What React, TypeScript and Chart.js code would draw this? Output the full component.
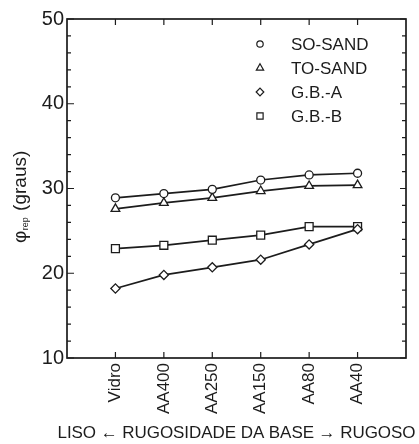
import React, { useEffect, useRef } from 'react';
import { Chart, registerables } from 'chart.js';
import { drawPoint } from 'chart.js/helpers';

Chart.register(...registerables);

const categories = ['Vidro', 'AA400', 'AA250', 'AA150', 'AA80', 'AA40'];
const seriesLabels = ['SO-SAND', 'TO-SAND', 'G.B.-A', 'G.B.-B'];
const soSand = [28.9, 29.4, 29.9, 31.0, 31.6, 31.8];
const toSand = [27.6, 28.3, 28.9, 29.7, 30.3, 30.4];
const gbA = [18.2, 19.8, 20.7, 21.6, 23.4, 25.2];
const gbB = [22.9, 23.3, 23.9, 24.5, 25.5, 25.5];
const yMajorTicks = [10, 20, 30, 40, 50];
const yMinorTicks = [12, 14, 16, 18, 22, 24, 26, 28, 32, 34, 36, 38, 42, 44, 46, 48];
const xAxisTitle = 'LISO \u2190 RUGOSIDADE DA BASE \u2192 RUGOSO';

const FONT = "'Liberation Sans', Arial, Helvetica, sans-serif";
const INK = '#1c1c1c';

const toPoints = (arr: number[]) => arr.map((y, i) => ({ x: i + 1, y }));

const framePlugin = {
  id: 'frameTicks',
  afterDraw(chart: any) {
    const { ctx, scales } = chart;
    const xs = scales.x;
    const ys = scales.y;
    const L = xs.getPixelForValue(0);
    const R = xs.getPixelForValue(7);
    const T = ys.getPixelForValue(50);
    const B = ys.getPixelForValue(10);
    ctx.save();
    ctx.strokeStyle = INK;
    ctx.lineWidth = 1.7;
    ctx.strokeRect(L, T, R - L, B - T);
    ctx.lineWidth = 1.2;
    ctx.beginPath();
    categories.forEach((_, i) => {
      const px = xs.getPixelForValue(i + 1);
      ctx.moveTo(px, B);
      ctx.lineTo(px, B - 6);
      ctx.moveTo(px, T);
      ctx.lineTo(px, T + 6);
    });
    yMajorTicks.forEach((v) => {
      const py = ys.getPixelForValue(v);
      ctx.moveTo(L, py);
      ctx.lineTo(L + 7, py);
      ctx.moveTo(R, py);
      ctx.lineTo(R - 6, py);
    });
    yMinorTicks.forEach((v) => {
      const py = ys.getPixelForValue(v);
      ctx.moveTo(L, py);
      ctx.lineTo(L + 4, py);
      ctx.moveTo(R, py);
      ctx.lineTo(R - 4, py);
    });
    ctx.stroke();

    // legend
    const legendX = 260;
    const textX = 291;
    const legendY0 = 44;
    const step = 24;
    const legendRadius: Record<string, number> = { circle: 3.2, triangle: 4.2, rectRot: 3.8, rect: 4.4 };
    chart.data.datasets.forEach((ds: any, i: number) => {
      const y = legendY0 + i * step;
      ctx.strokeStyle = INK;
      ctx.fillStyle = '#fff';
      drawPoint(ctx, { pointStyle: ds.pointStyle, radius: legendRadius[ds.pointStyle], borderWidth: 1.1, rotation: 0 } as any, legendX, y);
      ctx.fillStyle = INK;
      ctx.font = `17px ${FONT}`;
      ctx.textAlign = 'left';
      ctx.textBaseline = 'middle';
      ctx.fillText(ds.label, textX, y + 1);
    });

    // x axis title, fitted to the reference width
    ctx.save();
    ctx.fillStyle = INK;
    ctx.font = `17px ${FONT}`;
    ctx.textAlign = 'left';
    ctx.textBaseline = 'middle';
    const chars = Array.from(xAxisTitle);
    const widths = chars.map((ch) => ctx.measureText(ch).width);
    const natural = widths.reduce((s, v) => s + v, 0);
    const target = 358;
    const extra = (target - natural) / (chars.length - 1);
    let cx = xs.getPixelForValue(3.5) - target / 2;
    chars.forEach((ch, i) => {
      ctx.fillText(ch, cx, 433);
      cx += widths[i] + extra;
    });
    ctx.restore();

    // y title with subscript
    ctx.save();
    ctx.translate(21, 243);
    ctx.rotate(-Math.PI / 2);
    ctx.fillStyle = INK;
    ctx.textAlign = 'left';
    ctx.textBaseline = 'middle';
    ctx.font = `19px ${FONT}`;
    const phi = '\u03c6';
    ctx.fillText(phi, 0, 0);
    let w = ctx.measureText(phi).width;
    ctx.font = `9px ${FONT}`;
    ctx.fillText('rep', w + 0.5, 5);
    w += ctx.measureText('rep').width + 0.5;
    ctx.font = `19px ${FONT}`;
    ctx.fillText(' (graus)', w + 1, 0);
    ctx.restore();

    ctx.restore();
  },
};

export default function App() {
  const ref = useRef<HTMLCanvasElement | null>(null);

  useEffect(() => {
    document.body.style.margin = '0';
    const canvas = ref.current;
    if (!canvas) return;
    const common = {
      borderColor: INK,
      borderWidth: 1.7,
      pointBackgroundColor: '#fff',
      pointBorderColor: INK,
      pointBorderWidth: 1.3,
      tension: 0,
      fill: false,
    };
    const chart = new Chart(canvas, {
      type: 'line',
      data: {
        datasets: [
          { ...common, label: seriesLabels[0], data: toPoints(soSand), pointStyle: 'circle', pointRadius: 4 },
          { ...common, label: seriesLabels[1], data: toPoints(toSand), pointStyle: 'triangle', pointRadius: 5 },
          { ...common, label: seriesLabels[2], data: toPoints(gbA), pointStyle: 'rectRot', pointRadius: 4.6 },
          { ...common, label: seriesLabels[3], data: toPoints(gbB), pointStyle: 'rect', pointRadius: 5.6 },
        ],
      },
      options: {
        responsive: false,
        animation: false,
        devicePixelRatio: 1,
        layout: { padding: { left: 0, right: 13, top: 19, bottom: 0 } },
        plugins: {
          legend: { display: false },
          tooltip: { enabled: false },
        },
        scales: {
          x: {
            type: 'linear',
            min: 0,
            max: 7,
            grid: { display: false, drawTicks: false },
            border: { display: false },
            ticks: {
              stepSize: 1,
              autoSkip: false,
              minRotation: 90,
              maxRotation: 90,
              padding: 5,
              color: INK,
              font: { family: FONT, size: 17 },
              callback: (v: any) => {
                const idx = Math.round(Number(v)) - 1;
                return categories[idx] ?? '';
              },
            },
            title: { display: false },
            afterFit: (s: any) => {
              s.height = 86;
              s.paddingLeft = 0;
              s.paddingRight = 0;
            },
          },
          y: {
            min: 10,
            max: 50,
            grid: { display: false, drawTicks: false },
            border: { display: false },
            ticks: {
              stepSize: 10,
              padding: 3,
              color: INK,
              font: { family: FONT, size: 20 },
            },
            afterFit: (s: any) => {
              s.width = 67;
            },
          },
        },
      },
      plugins: [framePlugin],
    } as any);
    return () => chart.destroy();
  }, []);

  return (
    <div style={{ width: 419, height: 444 }}>
      <canvas ref={ref} width={419} height={444} />
    </div>
  );
}
